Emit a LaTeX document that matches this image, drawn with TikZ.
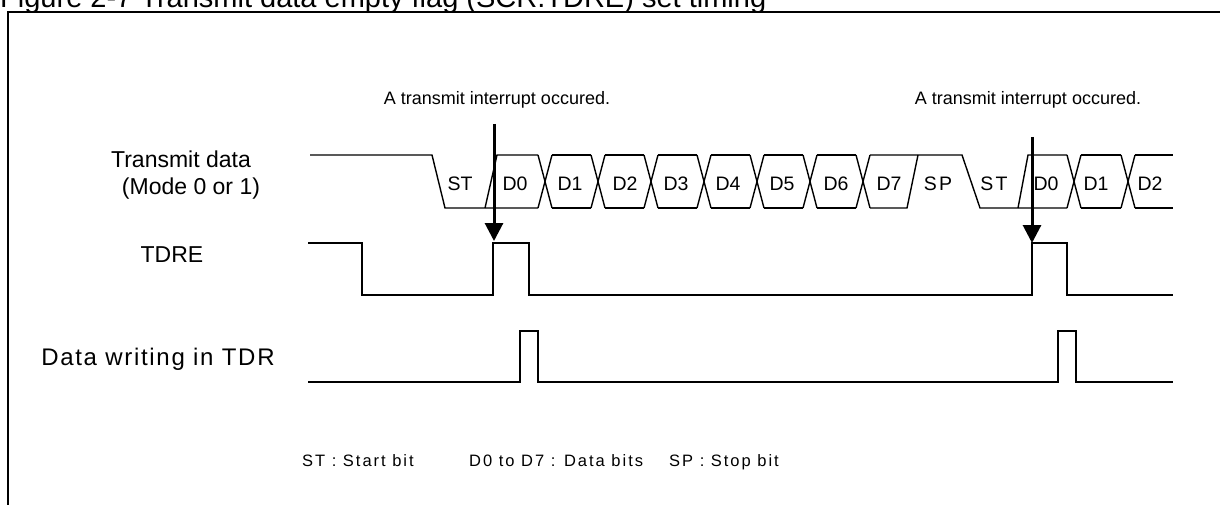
\documentclass[tikz,border=0pt]{standalone}
\usepackage{fontspec}
\setmainfont{Liberation Sans}
\usetikzlibrary{arrows.meta}
\begin{document}
\begin{tikzpicture}[x=1pt,y=-1pt,
  wave/.style={line width=1.4pt, line join=miter},
  frameline/.style={line width=2pt},
  intarrow/.style={line width=3pt, -{Triangle[width=18pt,length=18pt]}},
  siglabel/.style={inner sep=0pt, anchor=base, font=\fontsize{23}{27}\selectfont},
  bitlabel/.style={inner sep=0pt, anchor=base, font=\fontsize{19.5}{23}\selectfont},
  intlabel/.style={inner sep=0pt, anchor=base, font=\fontsize{18}{22}\selectfont},
  legend/.style={inner sep=0pt, anchor=base west, font=\fontsize{16.5}{20}\selectfont\addfontfeature{LetterSpace=12}},
  titlestyle/.style={inner sep=0pt, anchor=base west, font=\fontsize{29}{33}\selectfont}]
\useasboundingbox (0,0) rectangle (1220,505);
% frame
\draw[frameline] (8,505) -- (8,12) -- (1221,12);
\node[titlestyle] (title) at (0,8) {Figure 2-7 Transmit data empty flag (SCR.TDRE) set timing};
% signal labels
\node[siglabel] (lTD) at (181,168) {Transmit data};
\node[siglabel] (lMode) at (191,194) {(Mode 0 or 1)};
\node[siglabel] (lTDRE) at (172,262) {TDRE};
\node[siglabel, font=\fontsize{24}{28}\selectfont\addfontfeature{LetterSpace=7}] (lTDR) at (158,365) {Data writing in TDR};
% interrupt labels
\node[intlabel] (int1) at (497,105) {A transmit interrupt occured.};
\node[intlabel] (int2) at (1028,105) {A transmit interrupt occured.};
% transmit data waveform
\def\T{155}\def\B{208}
\draw[wave] (310,\T) -- (432,\T) -- (445,\B) -- (538,\B);
\draw[wave] (485,\B) -- (497,\T) -- (538,\T);
\foreach \c in {545,598,651,704,757,810,863} {
  \draw[wave] (\c-7,\T) -- (\c+7,\B);
  \draw[wave] (\c-7,\B) -- (\c+7,\T);
}
\foreach \a/\b in {552/591,605/644,658/697,711/750,764/803,817/856} {
  \draw[wave] (\a,\T) -- (\b,\T);
  \draw[wave] (\a,\B) -- (\b,\B);
}
\draw[wave] (870,\B) -- (907,\B) -- (918,\T);
\draw[wave] (870,\T) -- (962,\T) -- (980,\B) -- (1067,\B);
\draw[wave] (1018,\B) -- (1028,\T) -- (1067,\T);
\foreach \c in {1074,1128} {
  \draw[wave] (\c-7,\T) -- (\c+7,\B);
  \draw[wave] (\c-7,\B) -- (\c+7,\T);
}
\draw[wave] (1081,\T) -- (1121,\T);
\draw[wave] (1081,\B) -- (1121,\B);
\draw[wave] (1135,\T) -- (1173,\T);
\draw[wave] (1135,\B) -- (1173,\B);
% bit labels
\foreach \x/\t [count=\i] in {460/ST,515/D0,570/D1,625/D2,676/D3,728/D4,782/D5,836/D6,889/D7,1046/D0,1096/D1,1150/D2} {
  \node[bitlabel] (bit\i) at (\x,190) {\t};
}
\node[bitlabel, font=\fontsize{19.5}{23}\selectfont\addfontfeature{LetterSpace=12}] (bitSP) at (938,190) {SP};
\node[bitlabel, font=\fontsize{19.5}{23}\selectfont\addfontfeature{LetterSpace=12}] (bitST) at (994,190) {ST};
% TDRE
\draw[wave] (308,243) -- (362,243) -- (362,295) -- (493,295) -- (493,243) -- (529,243) -- (529,295)
  -- (1032,295) -- (1032,243) -- (1067,243) -- (1067,295) -- (1173,295);
% TDR
\draw[wave] (308,382) -- (520,382) -- (520,331) -- (538,331) -- (538,382) -- (1058,382) -- (1058,331)
  -- (1076,331) -- (1076,382) -- (1173,382);
% arrows
\coordinate (a1s) at (494,124);
\coordinate (a1e) at (494,241);
\coordinate (a2s) at (1032,137);
\coordinate (a2e) at (1032,243);
\draw[intarrow] (a1s) -- (a1e);
\draw[intarrow] (a2s) -- (a2e);
% legend
\node[legend] (leg1) at (302,466) {ST : Start bit};
\node[legend] (leg2) at (469,466) {D0 to D7 : Data bits};
\node[legend] (leg3) at (669,466) {SP : Stop bit};
\end{tikzpicture}
\end{document}
